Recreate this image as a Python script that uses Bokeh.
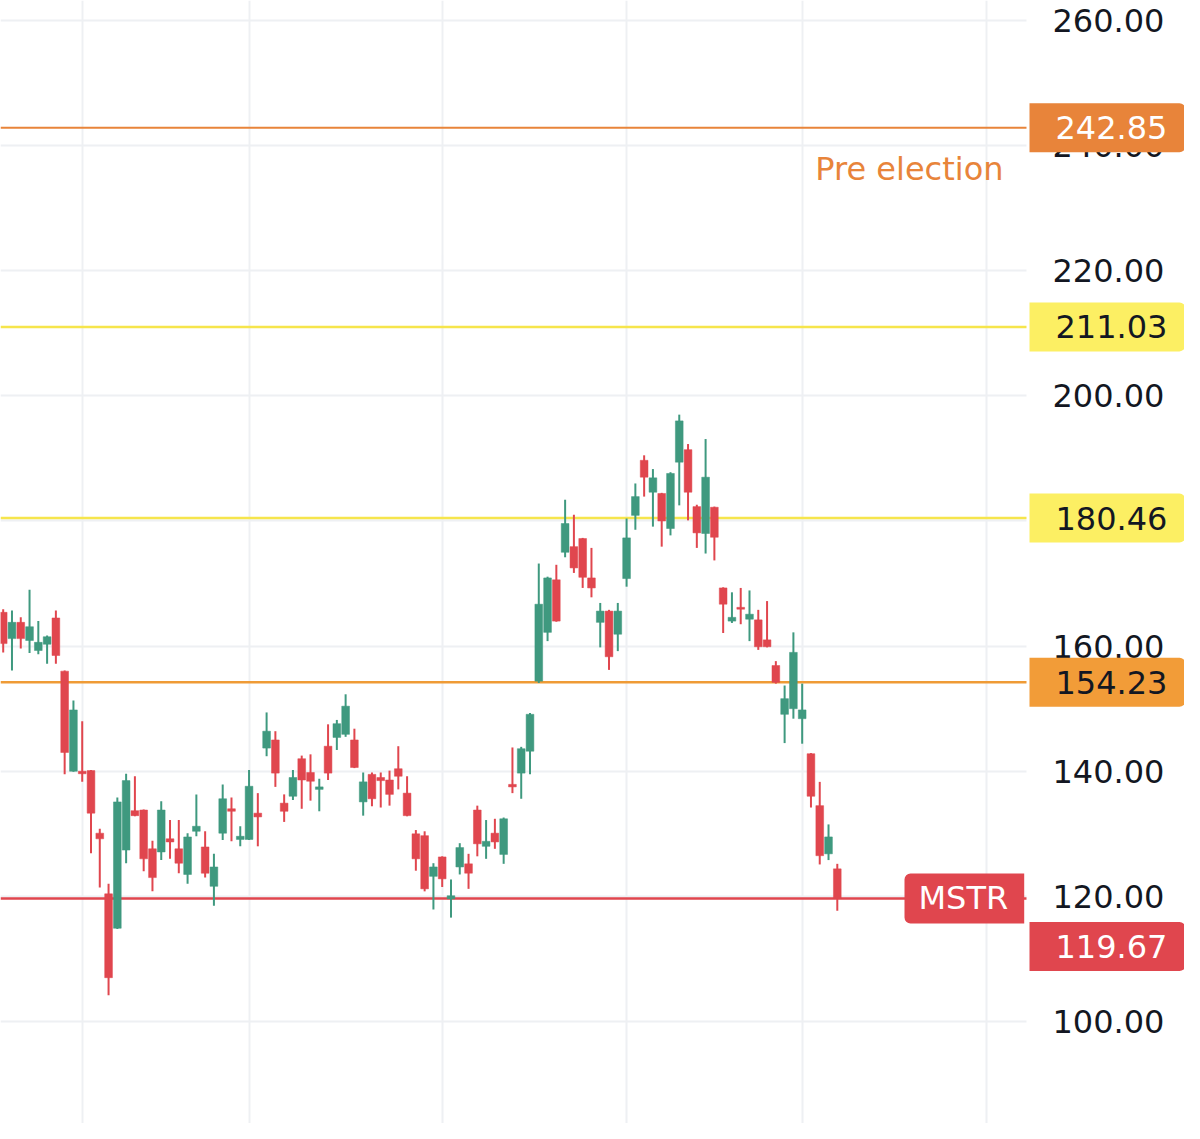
from bokeh.plotting import figure
from bokeh.models import (Range1d, Span, Label, FixedTicker, SingleIntervalTicker,
                          PrintfTickFormatter, ColumnDataSource, BoxAnnotation)
from bokeh.embed import file_html
from bokeh.resources import INLINE

# ---- data ----
opens = [165.4, 161.2, 163.8, 160.9, 159.3, 160.3, 164.5, 156.0, 140.0, 140.0,
         140.1, 130.1, 120.4, 114.9, 127.4, 133.7, 133.8, 127.6, 127.1, 129.2,
         127.6, 123.5, 130.4, 127.9, 121.6, 130.1, 134.0, 129.1, 129.1, 133.3,
         143.7, 145.0, 134.9, 136.0, 142.0, 139.8, 137.1, 144.0, 145.4, 145.9,
         145.0, 135.1, 139.5, 139.0, 138.6, 140.4, 136.5, 130.0, 129.7, 123.2,
         126.3, 119.6, 124.7, 125.2, 133.8, 128.0, 130.1, 126.7, 137.9, 139.7,
         143.2, 154.4, 162.2, 170.6, 175.0, 175.9, 177.2, 170.9, 163.8, 165.6,
         161.9, 170.8, 180.9, 189.7, 184.6, 184.4, 178.8, 189.4, 191.4, 182.3,
         178.0, 182.2, 169.3, 164.0, 166.2, 164.3, 164.2, 161.0, 156.9, 149.1,
         150.0, 148.4, 142.8, 134.5, 126.8, 124.4]
highs = [165.9, 165.7, 164.6, 169.0, 164.0, 161.7, 165.7, 156.1, 151.3, 148.0,
         140.2, 130.8, 122.0, 135.8, 139.6, 139.2, 133.9, 128.9, 135.2, 132.2,
         132.2, 130.1, 136.3, 130.4, 126.8, 137.9, 135.8, 131.2, 140.2, 136.5,
         149.4, 146.4, 136.3, 140.2, 142.5, 142.7, 138.8, 147.5, 148.2, 152.3,
         146.8, 139.8, 139.8, 139.8, 140.1, 144.0, 139.2, 130.6, 130.4, 125.3,
         126.4, 122.7, 128.5, 126.8, 134.5, 132.2, 132.4, 132.6, 143.8, 143.9,
         149.3, 173.2, 171.1, 173.0, 183.4, 181.0, 177.3, 175.7, 166.9, 165.8,
         166.9, 180.4, 186.0, 190.5, 188.3, 184.5, 187.8, 197.0, 192.3, 182.6,
         193.1, 182.3, 169.4, 168.6, 169.3, 168.9, 165.8, 167.2, 157.6, 153.7,
         162.2, 154.0, 142.9, 138.3, 131.5, 125.2]
lows = [159.0, 156.1, 159.6, 158.9, 158.7, 157.2, 157.2, 139.5, 139.9, 138.3,
        126.9, 121.4, 104.2, 114.8, 125.3, 132.8, 124.0, 120.8, 125.8, 126.0,
        123.7, 122.0, 129.6, 123.0, 118.5, 129.0, 128.8, 128.0, 129.0, 128.0,
        142.4, 137.5, 131.9, 135.4, 134.0, 135.3, 133.6, 138.6, 143.4, 145.5,
        140.5, 132.9, 134.4, 134.2, 134.5, 137.1, 132.8, 124.1, 120.8, 117.9,
        121.5, 116.6, 123.5, 121.2, 126.4, 126.0, 127.6, 125.2, 136.5, 135.6,
        139.5, 154.1, 160.8, 163.9, 174.2, 171.7, 169.3, 167.8, 159.8, 156.2,
        159.2, 169.5, 178.6, 183.9, 179.1, 175.9, 177.7, 182.5, 180.1, 175.7,
        174.8, 173.7, 162.1, 163.7, 163.5, 160.8, 159.4, 159.8, 154.0, 144.5,
        148.4, 144.4, 134.2, 125.1, 125.8, 117.7]
closes = [160.4, 163.8, 161.2, 163.1, 160.6, 161.5, 158.5, 143.0, 149.8, 139.6,
          133.3, 129.2, 107.0, 135.1, 138.5, 132.9, 126.0, 123.0, 133.8, 128.7,
          125.3, 129.5, 131.2, 123.7, 124.7, 135.6, 133.6, 129.6, 137.6, 132.7,
          146.4, 139.7, 133.6, 139.0, 138.6, 138.4, 137.5, 139.7, 147.6, 150.4,
          140.6, 138.3, 135.6, 138.5, 136.3, 139.2, 132.9, 126.0, 121.2, 124.7,
          122.8, 120.1, 127.8, 123.7, 128.4, 128.8, 128.7, 132.4, 137.5, 143.6,
          149.1, 166.7, 170.9, 164.0, 179.6, 172.5, 171.0, 169.3, 165.6, 158.3,
          165.6, 177.3, 183.9, 187.0, 186.9, 180.0, 187.6, 196.0, 184.6, 178.1,
          187.0, 177.4, 166.7, 164.6, 165.9, 165.1, 159.9, 159.9, 154.2, 151.6,
          159.0, 149.8, 136.0, 126.5, 129.5, 119.67]

month_ticks = [9, 28, 50, 71, 91, 112]          # bar index of month starts
price_tick_step = 20

# horizontal levels
levels = [242.85, 211.03, 180.46, 154.23, 119.67]
level_line_colors = ["#e8843a", "#f6e54c", "#f6e54c", "#ef9b36", "#e0464e"]
level_tag_colors = ["#e8843a", "#fcef63", "#fcef63", "#f29c38", "#e0464e"]
level_text_colors = ["#ffffff", "#131722", "#131722", "#131722", "#ffffff"]
level_widths = [2, 2.5, 2.5, 2.5, 2.5]
level_tag_shift_px = [0, 0, 0, 0, 48]   # last-price tag sits one tag below its line

symbol = "MSTR"
note_text = "Pre election"

UP = "#3f997f"
DOWN = "#e0464e"
FONT = "DejaVu Sans"
FSIZE = "32px"

# ---- layout constants (pixels) ----
W, H = 1184, 1123
BAR_PX = 8.78          # pixels per bar
FIRST_BAR_PX = 2.7     # x pixel of bar 0
PPU = 6.256            # pixels per price unit
TOP_PRICE = 263.2      # price at top edge
PANE_RIGHT = 1026      # right edge of the price pane
TAG_LEFT = 1029        # left edge of the price tags
LABEL_LEFT = 1055      # left edge of the price-scale texts

x0 = -FIRST_BAR_PX / BAR_PX
x1 = x0 + W / BAR_PX
y1 = TOP_PRICE
y0 = TOP_PRICE - H / PPU

# ---- build ----
n = len(opens)
idx = list(range(n))
colors = [UP if c >= o else DOWN for o, c in zip(opens, closes)]
src = ColumnDataSource(dict(
    x=idx, o=opens, h=highs, l=lows, c=closes,
    top=[max(o, c) for o, c in zip(opens, closes)],
    bottom=[min(o, c) for o, c in zip(opens, closes)],
    color=colors,
))

p = figure(frame_width=W, frame_height=H,
           min_border_left=0, min_border_top=0, min_border_bottom=0,
           min_border_right=0,
           x_range=Range1d(x0, x1), y_range=Range1d(y0, y1),
           x_axis_location=None, y_axis_location="right",
           output_backend="svg", toolbar_location=None)
p.outline_line_color = None
p.background_fill_color = "white"
p.border_fill_color = "white"

# grids
p.xgrid.ticker = FixedTicker(ticks=month_ticks)
p.ygrid.ticker = SingleIntervalTicker(interval=price_tick_step)
for g in (p.xgrid, p.ygrid):
    g.grid_line_color = "#eef0f3"
    g.grid_line_width = 2

# price axis, labels drawn back into the price-scale strip
ax = p.yaxis[0]
ax.ticker = SingleIntervalTicker(interval=price_tick_step)
ax.formatter = PrintfTickFormatter(format="%.2f")
ax.axis_line_color = None
ax.major_tick_line_color = None
ax.minor_tick_line_color = None
ax.major_tick_out = 0
ax.major_tick_in = 0
ax.major_label_standoff = LABEL_LEFT - 7 - W
ax.major_label_text_font = FONT
ax.major_label_text_font_size = FSIZE
ax.major_label_text_color = "#131722"

# level lines (under the candles)
for lv, lc, lw in zip(levels, level_line_colors, level_widths):
    p.add_layout(Span(location=lv, dimension="width", line_color=lc,
                      line_width=lw, level="underlay"))

# blank price-scale strip to the right of the pane
p.add_layout(BoxAnnotation(left=x0 + PANE_RIGHT / BAR_PX, fill_color="white",
                           fill_alpha=1.0, line_color=None, level="underlay"))

# candles
p.segment(x0="x", y0="h", x1="x", y1="l", source=src, line_color="color", line_width=2)
p.vbar(x="x", width=0.88, top="top", bottom="bottom", source=src,
       fill_color="color", line_color="color", line_width=0.5)

# price tags on the price scale
for lv, tc, fc, sh in zip(levels, level_tag_colors, level_text_colors, level_tag_shift_px):
    p.add_layout(Label(x=TAG_LEFT, x_units="screen", y=lv - sh / PPU, y_units="data",
                       text=f"{lv:.2f}", text_font=FONT, text_font_size=FSIZE,
                       text_color=fc, text_align="left", text_baseline="middle",
                       background_fill_color=tc,
                       padding=dict(left=LABEL_LEFT - TAG_LEFT, right=18, top=13, bottom=13),
                       border_radius=dict(top_left=0, top_right=6,
                                          bottom_right=6, bottom_left=0)))

# symbol tag on the last price line
p.add_layout(Label(x=904, x_units="screen", y=levels[-1], y_units="data",
                   text=symbol, text_font=FONT, text_font_size=FSIZE,
                   text_color="#ffffff", text_align="left", text_baseline="middle",
                   background_fill_color=level_tag_colors[-1],
                   padding=dict(left=14, right=16, top=6, bottom=6),
                   border_radius=dict(top_left=6, top_right=0,
                                      bottom_right=0, bottom_left=6)))

# note under the top line
p.add_layout(Label(x=1003, x_units="screen", y=levels[0] - 41.0 / PPU, y_units="data",
                   text=note_text, text_font=FONT, text_font_size=FSIZE,
                   text_color="#e8843a", text_align="right",
                   text_baseline="alphabetic"))

open("out.html", "w").write(file_html(p, INLINE))
